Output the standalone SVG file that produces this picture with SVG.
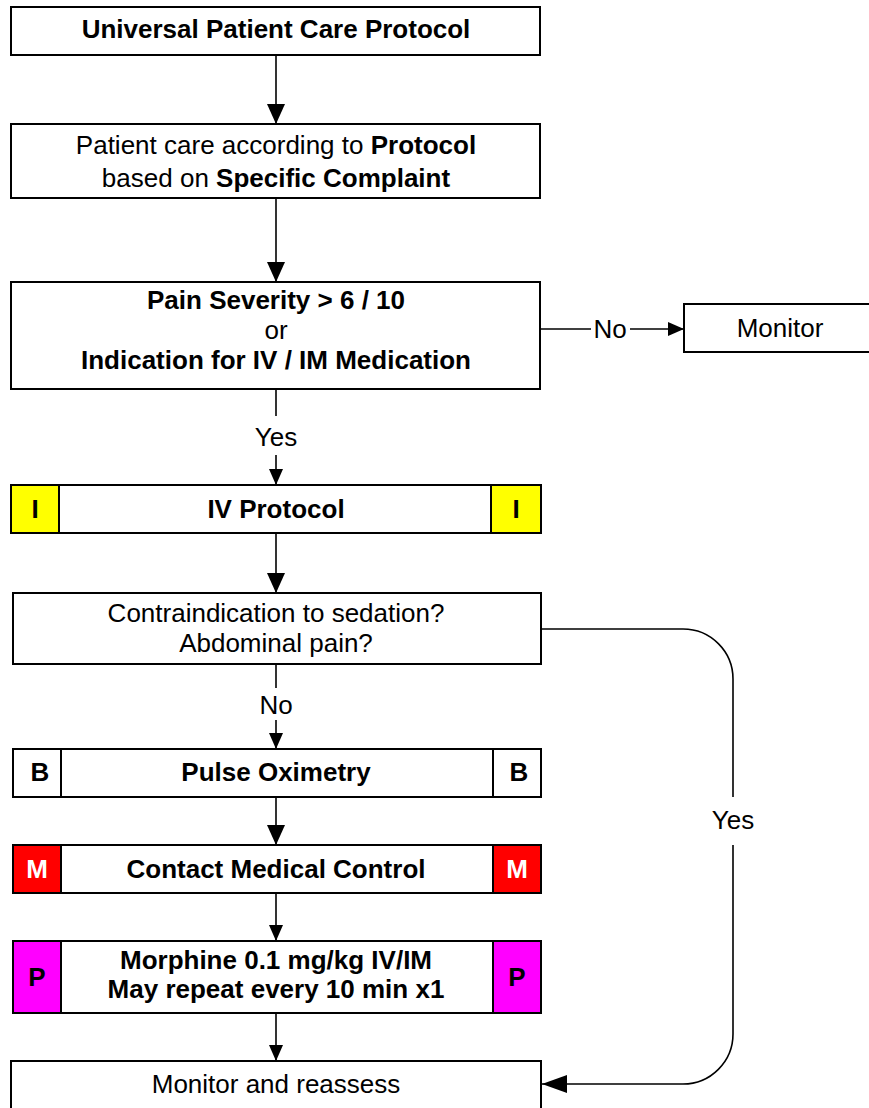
<svg xmlns="http://www.w3.org/2000/svg" width="869" height="1108" viewBox="0 0 869 1108">
<style>
.box{fill:#fff;stroke:#000;stroke-width:2}
.t{font-family:"Liberation Sans",Arial,sans-serif;font-size:26px;fill:#000;text-anchor:middle}
.b{font-weight:bold}
.ln{fill:none;stroke:#000;stroke-width:1.6}
</style>
<defs>
<marker id="big" markerUnits="userSpaceOnUse" markerWidth="22" markerHeight="20" refX="20" refY="9" orient="auto"><path d="M0,0 L20,9 L0,18 Z" fill="#000"/></marker>
<marker id="sm" markerUnits="userSpaceOnUse" markerWidth="18" markerHeight="16" refX="16" refY="7" orient="auto"><path d="M0,0 L16,7 L0,14 Z" fill="#000"/></marker>
<marker id="lp" markerUnits="userSpaceOnUse" markerWidth="28" markerHeight="20" refX="25" refY="9" orient="auto"><path d="M0,0 L25,9 L0,18 Z" fill="#000"/></marker>
</defs>
<g id="connectors">
<line class="ln" x1="276" y1="55" x2="276" y2="124" marker-end="url(#big)"/>
<line class="ln" x1="276" y1="198" x2="276" y2="282" marker-end="url(#big)"/>
<line class="ln" x1="540" y1="329" x2="591" y2="329"/>
<text class="t" x="610" y="338">No</text>
<line class="ln" x1="630" y1="329" x2="684" y2="329" marker-end="url(#sm)"/>
<line class="ln" x1="276" y1="389" x2="276" y2="416"/>
<text class="t" x="276" y="446">Yes</text>
<line class="ln" x1="276" y1="455" x2="276" y2="485" marker-end="url(#sm)"/>
<line class="ln" x1="276" y1="533" x2="276" y2="593" marker-end="url(#big)"/>
<line class="ln" x1="276" y1="664" x2="276" y2="688"/>
<text class="t" x="276" y="714">No</text>
<line class="ln" x1="276" y1="720" x2="276" y2="749" marker-end="url(#sm)"/>
<line class="ln" x1="276" y1="797" x2="276" y2="845" marker-end="url(#big)"/>
<line class="ln" x1="276" y1="893" x2="276" y2="941" marker-end="url(#sm)"/>
<line class="ln" x1="276" y1="1013" x2="276" y2="1061" marker-end="url(#sm)"/>
<path class="ln" d="M541,629 H683 A50,50 0 0 1 733,679 V797"/>
<text class="t" x="733" y="829">Yes</text>
<path class="ln" d="M733,845 V1034 A50,50 0 0 1 683,1084 H542" marker-end="url(#lp)"/>
</g>
<g id="n1">
<rect class="box" x="11" y="7" width="529" height="48"/>
<text class="t b" x="276" y="38">Universal Patient Care Protocol</text>
</g>
<g id="n2">
<rect class="box" x="11" y="124" width="529" height="74"/>
<text class="t" x="276" y="154">Patient care according to <tspan class="b">Protocol</tspan></text>
<text class="t" x="276" y="187">based on <tspan class="b">Specific Complaint</tspan></text>
</g>
<g id="n3">
<rect class="box" x="11" y="282" width="529" height="107"/>
<text class="t b" x="276" y="309">Pain Severity &gt; 6 / 10</text>
<text class="t" x="276" y="339">or</text>
<text class="t b" x="276" y="369">Indication for IV / IM Medication</text>
</g>
<g id="n4">
<rect class="box" x="684" y="304" width="200" height="48"/>
<text class="t" x="780" y="337">Monitor</text>
</g>
<g id="n5">
<rect class="box" x="11" y="485" width="530" height="48"/>
<rect class="box" x="11" y="485" width="48" height="48" style="fill:#ffff00"/>
<rect class="box" x="491" y="485" width="50" height="48" style="fill:#ffff00"/>
<text class="t b" x="35" y="518">I</text>
<text class="t b" x="516" y="518">I</text>
<text class="t b" x="276" y="518">IV Protocol</text>
</g>
<g id="n6">
<rect class="box" x="13" y="593" width="528" height="71"/>
<text class="t" x="276" y="622">Contraindication to sedation?</text>
<text class="t" x="276" y="652">Abdominal pain?</text>
</g>
<g id="n7">
<rect class="box" x="13" y="749" width="528" height="48"/>
<rect class="box" x="13" y="749" width="48" height="48"/>
<rect class="box" x="493" y="749" width="48" height="48"/>
<text class="t b" x="40" y="781">B</text>
<text class="t b" x="519" y="781">B</text>
<text class="t b" x="276" y="781">Pulse Oximetry</text>
</g>
<g id="n8">
<rect class="box" x="13" y="845" width="528" height="48"/>
<rect class="box" x="13" y="845" width="48" height="48" style="fill:#ff0000"/>
<rect class="box" x="493" y="845" width="48" height="48" style="fill:#ff0000"/>
<text class="t b" x="37" y="878" style="fill:#fff">M</text>
<text class="t b" x="517" y="878" style="fill:#fff">M</text>
<text class="t b" x="276" y="878">Contact Medical Control</text>
</g>
<g id="n9">
<rect class="box" x="13" y="941" width="528" height="72"/>
<rect class="box" x="13" y="941" width="48" height="72" style="fill:#ff00ff"/>
<rect class="box" x="493" y="941" width="48" height="72" style="fill:#ff00ff"/>
<text class="t b" x="37" y="986">P</text>
<text class="t b" x="517" y="986">P</text>
<text class="t b" x="276" y="969">Morphine 0.1 mg/kg IV/IM</text>
<text class="t b" x="276" y="998">May repeat every 10 min x1</text>
</g>
<g id="n10">
<rect class="box" x="11" y="1061" width="530" height="60"/>
<text class="t" x="276" y="1093">Monitor and reassess</text>
</g>
</svg>
